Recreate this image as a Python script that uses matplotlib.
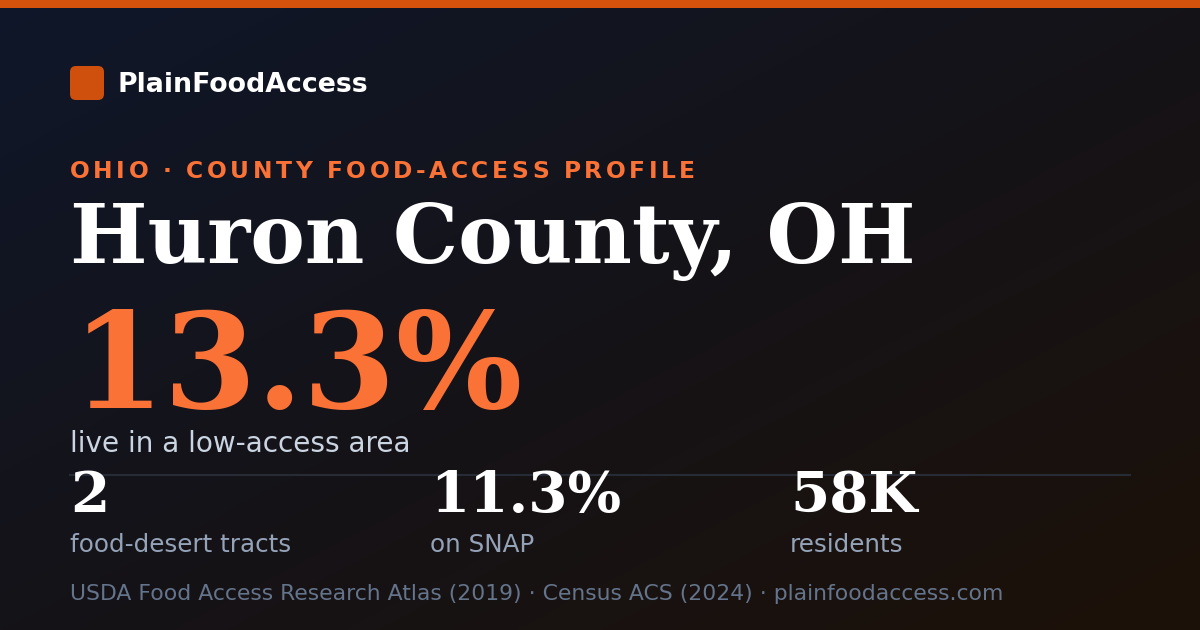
import numpy as np
import matplotlib
matplotlib.use("Agg")
import matplotlib.pyplot as plt
from matplotlib.patches import FancyBboxPatch, Rectangle
from matplotlib.colors import to_rgb

brand = "PlainFoodAccess"
kicker = "OHIO · COUNTY FOOD-ACCESS PROFILE"
county = "Huron County, OH"
headline_value = "13.3%"
headline_label = "live in a low-access area"
stat_values = ["2", "11.3%", "58K"]
stat_labels = ["food-desert tracts", "on SNAP", "residents"]
source = "USDA Food Access Research Atlas (2019) · Census ACS (2024) · plainfoodaccess.com"

W, H = 1200, 630
orange = "#fb7237"
dark_orange = "#cf500d"

fig = plt.figure(figsize=(W / 100, H / 100), dpi=100)
ax = fig.add_axes([0, 0, 1, 1])
ax.set_xlim(0, W)
ax.set_ylim(H, 0)
ax.axis("off")

# diagonal background gradient
c0 = np.array(to_rgb("#0f172a"))
c1 = np.array(to_rgb("#151318"))
c2 = np.array(to_rgb("#1c1108"))
yy, xx = np.mgrid[0:H, 0:W]
t = (xx / W + yy / H) / 2
t = t[..., None]
bg = np.where(t < 0.5, c0 + (c1 - c0) * (t / 0.5), c1 + (c2 - c1) * ((t - 0.5) / 0.5))
ax.imshow(bg, extent=[0, W, H, 0], zorder=0, aspect="auto")

ax.add_patch(Rectangle((0, 0), W, 8, color="#d4520c", zorder=1, lw=0))
ax.add_patch(FancyBboxPatch((70 + 6, 66 + 6), 34 - 12, 34 - 12,
                            boxstyle="round,pad=6", color=dark_orange, lw=0, zorder=1))
ax.text(118, 92, brand, color="white", fontsize=19.3, fontweight="bold",
        family="DejaVu Sans", va="baseline", zorder=2)

# kicker with letter spacing
fig.canvas.draw()
r = fig.canvas.get_renderer()
x = 70
for ch in kicker:
    tt = ax.text(x, 178, ch, color=orange, fontsize=16.8, fontweight="bold",
                 family="DejaVu Sans", va="baseline", zorder=2)
    w = tt.get_window_extent(r).width if ch != " " else 16.8 * 0.32 / 0.72
    x += w + 3.55

ax.text(70, 263, county, color="white", fontsize=59, fontweight="bold",
        family="DejaVu Serif", va="baseline", zorder=2)
ax.text(72, 408, headline_value, color=orange, fontsize=96, fontweight="bold",
        family="DejaVu Serif", va="baseline", zorder=2)
ax.text(70, 452, headline_label, color="#cbd5e1", fontsize=20.1,
        family="DejaVu Sans", va="baseline", zorder=2)

ax.plot([70, 1130], [475, 475], color="#272b35", lw=1.5, zorder=1)

for i, (v, lab) in enumerate(zip(stat_values, stat_labels)):
    sx = 70 + i * 360
    ax.text(sx, 512, v, color="white", fontsize=40.6, fontweight="bold",
            family="DejaVu Serif", va="baseline", zorder=2)
    ax.text(sx, 552, lab, color="#94a3b8", fontsize=17.7,
            family="DejaVu Sans", va="baseline", zorder=2)

ax.text(70, 600, source, color="#64748b", fontsize=15.75,
        family="DejaVu Sans", va="baseline", zorder=2)

fig.savefig("out.png", dpi=100)
